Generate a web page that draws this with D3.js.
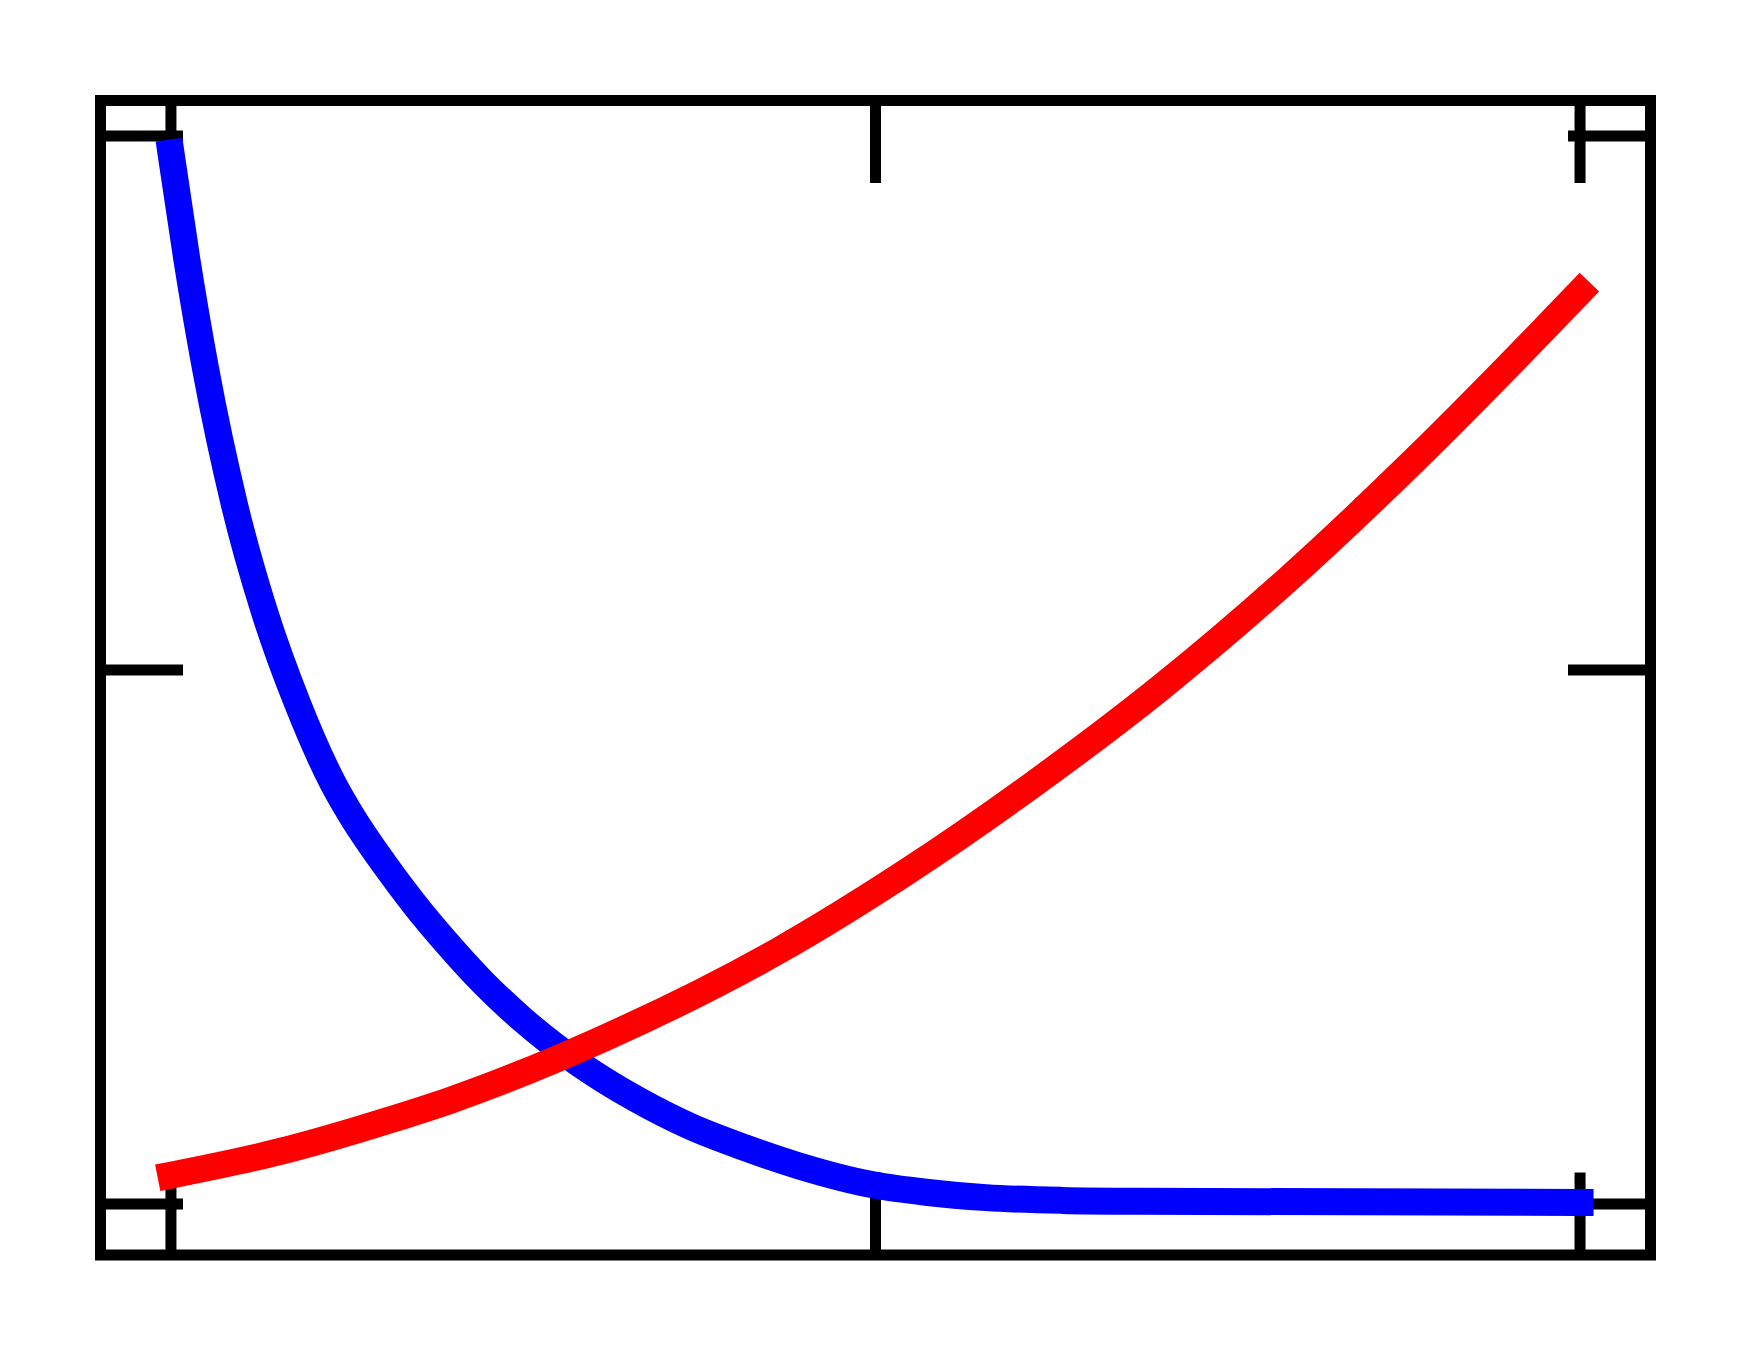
<!DOCTYPE html>
<html>
<head>
<meta charset="utf-8">
<script src="https://cdn.jsdelivr.net/npm/d3@7"></script>
<style>
  body { margin: 0; background: #fff; }
  svg { display: block; }
</style>
</head>
<body>
<div id="graf"></div>
<script>
const ancho = 1750
const alto = 1355

// datos
const xTicks = [0, 0.5, 1]
const yTicks = [0, 0.5, 1]

const azulX = [0, 0.0112, 0.0247, 0.0452, 0.066, 0.09, 0.115, 0.128, 0.151, 0.172, 0.196, 0.221,
  0.251, 0.288, 0.3305, 0.3679, 0.4067, 0.4449, 0.4982, 0.5358, 0.5784, 0.6323, 0.6869, 1]
const azulY = [0.984, 0.885, 0.781, 0.654, 0.556, 0.468, 0.394, 0.364, 0.319, 0.282, 0.244, 0.208,
  0.171, 0.133, 0.098, 0.073, 0.053, 0.036, 0.018, 0.011, 0.006, 0.0034, 0.0026, 0.0014]

const rojoX = [0, 0.077, 0.156, 0.198, 0.307, 0.431, 0.521, 0.611, 0.702, 0.792, 0.883, 0.973, 1]
const rojoY = [0.027, 0.049, 0.079, 0.097, 0.155, 0.237, 0.31, 0.392, 0.483, 0.584, 0.697, 0.817, 0.854]

const azul = azulX.map((x, i) => ({ x, y: azulY[i] }))
const rojo = rojoX.map((x, i) => ({ x, y: rojoY[i] }))

// caja del grafico
const izq = 100.5
const der = 1650.5
const arr = 100.5
const aba = 1255

// dominio con 5% de margen, como matplotlib
const pad = (ext) => {
  const r = ext[1] - ext[0]
  return [ext[0] - 0.05 * r, ext[1] + 0.05 * r]
}
const todos = azul.concat(rojo)
const x = d3.scaleLinear().domain(pad(d3.extent(todos, (d) => d.x))).range([izq, der])
const y = d3.scaleLinear().domain(pad(d3.extent(todos, (d) => d.y))).range([aba, arr])

const svg = d3.select("#graf")
  .append("svg")
  .attr("width", ancho)
  .attr("height", alto)

svg.append("rect")
  .attr("width", ancho)
  .attr("height", alto)
  .attr("fill", "#fff")

const largo = 82.5
const grosor = 11

const ejes = [
  { eje: d3.axisBottom(x).tickValues(xTicks), t: `translate(0,${aba})` },
  { eje: d3.axisTop(x).tickValues(xTicks), t: `translate(0,${arr})` },
  { eje: d3.axisLeft(y).tickValues(yTicks), t: `translate(${izq},0)` },
  { eje: d3.axisRight(y).tickValues(yTicks), t: `translate(${der},0)` },
]

ejes.forEach((e) => {
  const g = svg.append("g")
    .attr("transform", e.t)
    .call(e.eje.tickSize(-largo).tickFormat("").offset(0))
  g.select(".domain").remove()
  g.selectAll(".tick line")
    .attr("stroke", "#000")
    .attr("stroke-width", grosor)
})

const linea = d3.line()
  .x((d) => x(d.x))
  .y((d) => y(d.y))
  .curve(d3.curveMonotoneX)

const series = [
  { datos: azul, color: "#0000ff" },
  { datos: rojo, color: "#ff0000" },
]

series.forEach((s) => {
  svg.append("path")
    .datum(s.datos)
    .attr("d", linea)
    .attr("fill", "none")
    .attr("stroke", s.color)
    .attr("stroke-width", 27)
    .attr("stroke-linecap", "square")
    .attr("stroke-linejoin", "round")
})

svg.append("rect")
  .attr("x", izq)
  .attr("y", arr)
  .attr("width", der - izq)
  .attr("height", aba - arr)
  .attr("fill", "none")
  .attr("stroke", "#000")
  .attr("stroke-width", grosor)
</script>
</body>
</html>
